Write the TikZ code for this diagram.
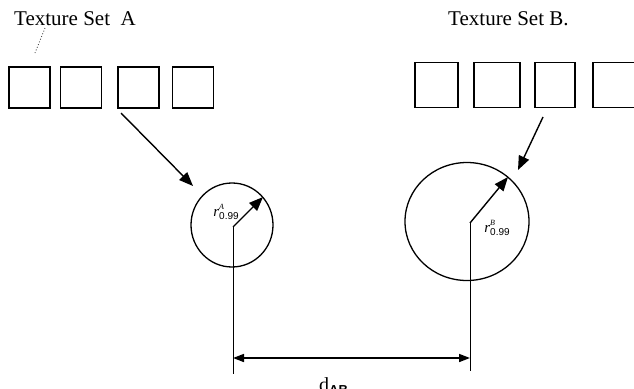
\documentclass[tikz,border=0pt]{standalone}
\usepackage{fontspec}
\setmainfont{Liberation Serif}
\setsansfont{Liberation Sans}
\usetikzlibrary{arrows.meta,shapes.geometric}
\newcommand{\rlabel}[1]{\textit{r}\rlap{\raisebox{7pt}{\fontsize{8}{9}\selectfont\itshape #1}}\raisebox{-3pt}{\sffamily\fontsize{10}{11}\selectfont 0.99}}
\begin{document}
\begin{tikzpicture}[x=1pt,y=-1pt,
  tex/.style={draw,line width=1.6pt,inner sep=0pt,minimum width=41pt,minimum height=41pt},
  texb/.style={draw,line width=1.6pt,inner sep=0pt,minimum height=45pt},
  ln/.style={line width=1pt},
  big/.style={-{Triangle[length=14pt,width=11pt]},line width=1.4pt},
  dim/.style={{Triangle[length=11pt,width=8pt]}-{Triangle[length=11pt,width=8pt]},line width=1.6pt},
  lab/.style={font=\fontsize{21}{24}\selectfont,inner sep=0pt},
  rlab/.style={inner sep=0pt,font=\fontsize{15}{17}\selectfont}]
\useasboundingbox (0,0) rectangle (634,388);
\clip (0,0) rectangle (634,388);
% titles
\node[lab,anchor=base west] (ta) at (14,25) {Texture Set\ \ A};
\node[lab,anchor=base west] (tb) at (448,25) {Texture Set B.};
\coordinate (dotA) at (45,28);
\coordinate (dotB) at (35,53);
\draw[black!70,dotted,line width=0.9pt] (dotA) -- (dotB);
% set A
\node[tex] (a1) at (29.5,87.5) {};
\node[tex] (a2) at (81,87.5) {};
\node[tex] (a3) at (138.5,87.5) {};
\node[tex] (a4) at (193,87.5) {};
% set B
\node[texb,minimum width=43pt] (b1) at (436.5,85) {};
\node[texb,minimum width=46pt] (b2) at (497,85) {};
\node[texb,minimum width=40pt] (b3) at (555,85) {};
\node[texb,minimum width=46pt] (b4) at (616,85) {};
% circles
\node[draw,ellipse,line width=1.3pt,minimum width=82pt,minimum height=84pt,inner sep=0pt] (ca) at (232,225) {};
\node[draw,ellipse,line width=1.3pt,minimum width=124pt,minimum height=118pt,inner sep=0pt] (cb) at (467,221.5) {};
% centres and radius tips
\coordinate (oa) at (233,227);
\coordinate (ra) at (263,197);
\coordinate (ob) at (470,223);
\coordinate (rb) at (508,177);
\draw[big] (oa) -- (ra);
\draw[big] (ob) -- (rb);
\node[rlab] (la) at (226,212) {\rlabel{A}};
\node[rlab] (lb) at (497,228) {\rlabel{B}};
% arrows from textures
\coordinate (sa) at (121,113);
\coordinate (ea) at (193,186);
\draw[big] (sa) -- (ea);
\coordinate (sb) at (543,117);
\coordinate (eb) at (518,170);
\draw[big] (sb) -- (eb);
% dimension
\coordinate (va) at (233,374);
\coordinate (vb) at (470,371);
\draw[ln] (oa) -- (va);
\draw[ln] (ob) -- (vb);
\coordinate (da) at (233,358);
\coordinate (db) at (470,358);
\draw[dim] (da) -- (db);
\node[inner sep=0pt,anchor=base west,font=\fontsize{20}{22}\selectfont] (dab) at (319,391) {d\raisebox{-3pt}{\fontsize{13}{15}\sffamily\bfseries AB}};
\end{tikzpicture}
\end{document}
